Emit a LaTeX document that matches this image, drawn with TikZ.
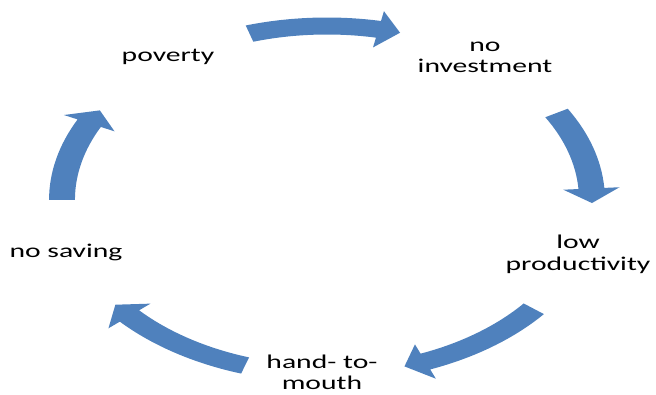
\documentclass[tikz,border=0pt]{standalone}
\usepackage{fontspec}
\newfontfamily\labfont[FakeStretch=1.52]{Carlito}
\definecolor{cycblue}{HTML}{4F81BD}
\tikzset{
  arrowfill/.style={fill=cycblue, draw=none},
  lab/.style={font=\labfont\fontsize{19.5}{21}\selectfont, align=center, inner sep=0pt, anchor=base, text=black}
}
% #1 start angle (tail), #2 tip angle
\newcommand{\cycarrow}[2]{%
  \pgfmathsetmacro\hbase{#2+4.8}%
  \fill[arrowfill] (#1:182.5) arc[start angle=#1, end angle=\hbase, radius=182.5]
    -- (\hbase:192.5) -- (#2:174) -- (\hbase:155.5) -- (\hbase:165.5)
    arc[start angle=\hbase, end angle=#1, radius=165.5] -- cycle;}
\begin{document}
\begin{tikzpicture}[x=1pt, y=1pt]
\useasboundingbox (0,0) rectangle (656,394);
\begin{scope}[shift={(327,194)}, xscale=1.523]
  \cycarrow{107}{74}
  \cycarrow{30}{-1}
  \cycarrow{-38.7}{-73}
  \cycarrow{-108}{-143}
  \cycarrow{180}{149}
\end{scope}
\node[lab] (poverty) at (168,332) {poverty};
\node[lab] (noinv) at (485,321) {no\\investment};
\node[lab] (lowprod) at (578,124) {low\\productivity};
\node[lab] (hand) at (322,4.5) {hand- to-\\mouth};
\node[lab] (nosav) at (66,136) {no saving};
\end{tikzpicture}
\end{document}
